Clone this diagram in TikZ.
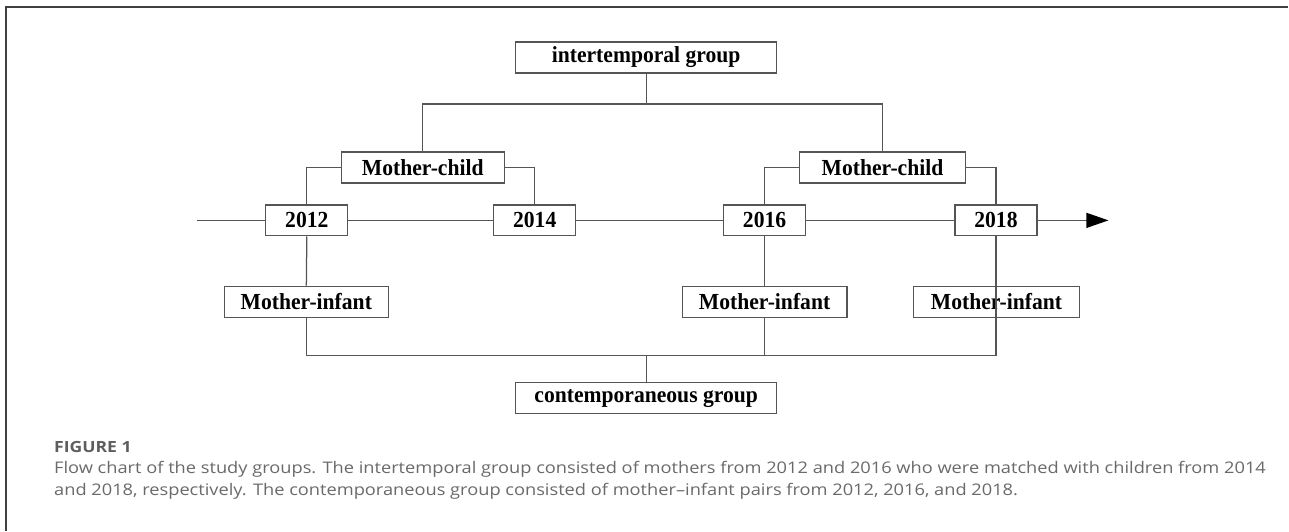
\documentclass[tikz,border=0pt]{standalone}
\usepackage{fontspec}
\setmainfont[FakeStretch=0.94]{Liberation Serif}
\newfontfamily\capfont[FakeStretch=1.14]{Open Sans}
\usetikzlibrary{arrows.meta,positioning}
\definecolor{chartLine}{HTML}{555555}
\definecolor{frameLine}{HTML}{404040}
\definecolor{capGray}{HTML}{6A6A6A}
\definecolor{capHead}{HTML}{5E5E5E}

\begin{document}
\begin{tikzpicture}[x=1pt,y=-1pt,>=Latex,line cap=butt]
\path[fill=white] (0,0) rectangle (1289,531);
\draw[frameLine,line width=1.4pt] (6,531) -- (6,7) -- (1289,7);
\tikzset{grp/.style={draw=chartLine,line width=1.25pt,minimum height=31pt,inner sep=0pt,font=\fontsize{23}{25}\selectfont\bfseries},yearbox/.style={grp,minimum width=82pt},link/.style={draw=chartLine,line width=1.25pt}}
% group boxes
\node[grp,minimum width=261pt] (inter) at (646.5,57.5) {intertemporal group};
\node[grp,minimum width=261pt] (contemp) at (646.5,398.5) {contemporaneous group};
\node[grp,minimum width=163pt] (mcA) at (423,167.5) {Mother-child};
\node[grp,minimum width=166pt] (mcB) at (883,167.5) {Mother-child};
% years on the time line
\node[yearbox] (y2012) at (307,220.5) {2012};
\node[yearbox] (y2014) at (535,220.5) {2014};
\node[yearbox] (y2016) at (765,220.5) {2016};
\node[yearbox] (y2018) at (996.5,220.5) {2018};
\node[grp,minimum width=164pt] (miA) at (306.5,302) {Mother-infant};
\node[grp,minimum width=165pt] (miB) at (765,302) {Mother-infant};
\node[grp,minimum width=166pt] (miC) at (997,302) {Mother-infant};
\coordinate (tstart) at (197,220.5);
\coordinate (tend) at (1109,220.5);
\coordinate (topbar) at (646.5,104);
\coordinate (botbar) at (646.5,356);
% time line
\draw[link] (tstart) -- (y2012.west) (y2012.east) -- (y2014.west) (y2014.east) -- (y2016.west) (y2016.east) -- (y2018.west);
\draw[link,-{Triangle[length=22pt,width=15pt,color=black]}] (y2018.east) -- (tend);
% intertemporal branch
\draw[link] (inter.south) -- (topbar);
\draw[link] (mcA.north) |- (topbar) -| (mcB.north);
\draw[link] (mcA.west) -| (y2012.north);
\draw[link] (mcA.east) -| (y2014.north);
\draw[link] (mcB.west) -| (y2016.north);
\draw[link] (mcB.east) -| (y2018.north);
% contemporaneous branch
\draw[link] (y2012.south) -- (miA.north);
\draw[link] (y2016.south) -- (miB.north);
\draw[link] (miA.south) |- (botbar) -| (miB.south);
\draw[link] (y2018.south) |- (botbar);
\draw[link] (botbar) -- (contemp.north);
% caption
\node[anchor=base west,inner sep=0pt,text=capHead,font=\capfont\fontsize{15.4}{17}\selectfont\bfseries] (fighead) at (54,453) {FIGURE 1};
\node[anchor=base west,inner sep=0pt,text=capGray,font=\capfont\fontsize{16}{21}\selectfont] (capA) at (54,474) {Flow chart of the study groups. The intertemporal group consisted of mothers from 2012 and 2016 who were matched with children from 2014};
\node[anchor=base west,inner sep=0pt,text=capGray,font=\capfont\fontsize{16}{21}\selectfont] (capB) at (54,495.5) {and 2018, respectively. The contemporaneous group consisted of mother–infant pairs from 2012, 2016, and 2018.};
\end{tikzpicture}
\end{document}
